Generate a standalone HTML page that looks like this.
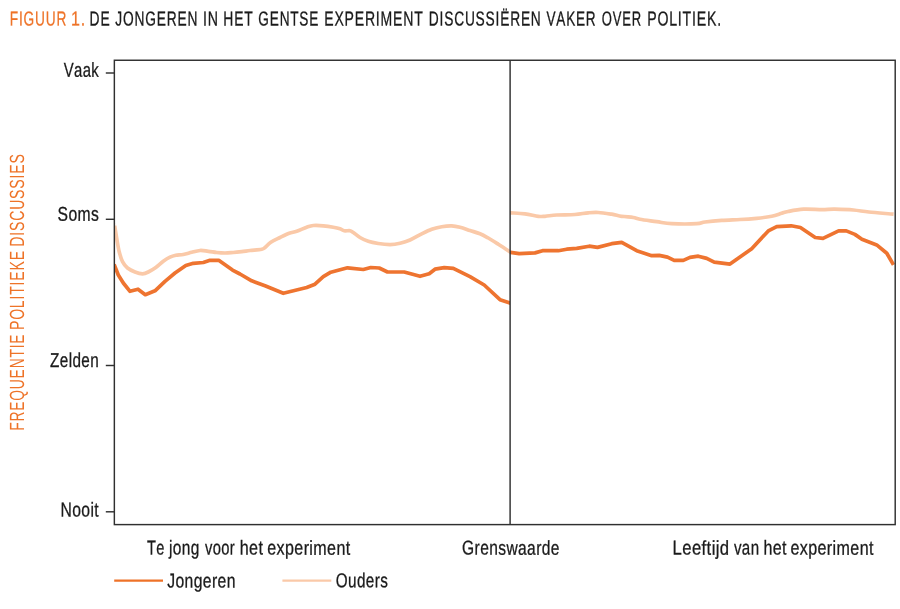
<!DOCTYPE html>
<html lang="nl"><head><meta charset="utf-8"><title>Figuur 1</title>
<style>
html,body{margin:0;padding:0;background:#fff;}
svg{display:block;font-family:"Liberation Sans",Arial,sans-serif;text-rendering:geometricPrecision;font-kerning:none;}
.t{fill:#1a1a1a;stroke:#1a1a1a;stroke-width:0.3;}
.o{fill:#ee7328;}
.ob{fill:#ee7328;stroke:#ee7328;stroke-width:0.25;}
</style></head><body>
<svg width="900" height="609" viewBox="0 0 900 609">
<rect width="900" height="609" fill="#fff"/>
<!-- title -->
<text transform="translate(9.83,25.5) rotate(0.05) scale(0.6788,1)" font-size="20.2" letter-spacing="1.178" class="ob">FIGUUR</text>
<text transform="translate(71.03,25.5) rotate(0.05) scale(0.7947,1)" font-size="20.2" letter-spacing="1.007" class="ob">1.</text>
<text transform="translate(89.61,25.5) rotate(0.05) scale(0.6853,1)" font-size="20.2" letter-spacing="1.167" class="t">DE</text>
<text transform="translate(115.34,25.5) rotate(0.05) scale(0.6810,1)" font-size="20.2" letter-spacing="1.175" class="t">JONGEREN</text>
<text transform="translate(202.94,25.5) rotate(0.05) scale(0.7011,1)" font-size="20.2" letter-spacing="1.141" class="t">IN</text>
<text transform="translate(223.31,25.5) rotate(0.05) scale(0.6871,1)" font-size="20.2" letter-spacing="1.164" class="t">HET</text>
<text transform="translate(258.37,25.5) rotate(0.05) scale(0.6739,1)" font-size="20.2" letter-spacing="1.187" class="t">GENTSE</text>
<text transform="translate(324.30,25.5) rotate(0.05) scale(0.6951,1)" font-size="20.2" letter-spacing="1.151" class="t">EXPERIMENT</text>
<text transform="translate(428.82,25.5) rotate(0.05) scale(0.6814,1)" font-size="20.2" letter-spacing="1.174" class="t">DISCUSSIËREN</text>
<text transform="translate(546.49,25.5) rotate(0.05) scale(0.6716,1)" font-size="20.2" letter-spacing="1.191" class="t">VAKER</text>
<text transform="translate(601.73,25.5) rotate(0.05) scale(0.6450,1)" font-size="20.2" letter-spacing="1.240" class="t">OVER</text>
<text transform="translate(647.19,25.5) rotate(0.05) scale(0.6997,1)" font-size="20.2" letter-spacing="1.143" class="t">POLITIEK.</text>
<!-- curves -->
<defs>
<clipPath id="cl"><rect x="114.5" y="60" width="395.5" height="464.5"/></clipPath>
<clipPath id="cr"><rect x="510" y="60" width="384.9" height="464.5"/></clipPath>
</defs>
<g fill="none" stroke-width="3.7" stroke-linejoin="round" stroke-linecap="butt">
<path clip-path="url(#cl)" stroke="#fac9a8" d="M114.6,225.4C114.6,225.7 114.6,224.8 114.9,227.0C115.2,229.2 116.0,234.2 116.7,238.3C117.4,242.4 118.2,247.8 119.2,251.7C120.2,255.6 121.1,259.0 122.5,261.7C123.9,264.4 125.4,266.3 127.5,268.0C129.6,269.7 132.5,271.0 135.0,272.0C137.5,273.0 140.3,273.8 142.5,273.8C144.7,273.8 146.1,273.1 148.3,272.0C150.5,270.9 153.3,269.3 155.8,267.5C158.3,265.7 160.9,263.0 163.3,261.3C165.7,259.6 167.9,258.2 170.0,257.2C172.1,256.2 173.6,255.8 175.8,255.3C178.0,254.9 180.7,255.0 183.3,254.5C186.0,254.0 188.9,253.0 191.7,252.3C194.5,251.6 197.2,250.7 200.0,250.5C202.8,250.3 205.5,251.0 208.3,251.3C211.1,251.6 213.9,252.2 216.7,252.5C219.5,252.8 222.2,253.0 225.0,253.0C227.8,253.0 230.5,252.7 233.3,252.5C236.1,252.3 238.9,252.0 241.7,251.7C244.5,251.4 246.7,250.9 250.0,250.5C253.3,250.1 259.2,249.7 261.7,249.2C264.2,248.7 263.5,248.7 265.0,247.5C266.5,246.3 268.3,243.9 270.8,242.2C273.3,240.5 276.9,239.0 280.0,237.5C283.1,236.0 286.4,234.3 289.2,233.3C292.0,232.3 293.8,232.3 296.7,231.3C299.6,230.3 303.9,228.2 306.7,227.2C309.5,226.2 310.5,225.7 313.3,225.5C316.1,225.3 320.0,225.5 323.3,225.8C326.6,226.1 330.5,226.7 333.3,227.2C336.1,227.7 338.2,228.2 340.0,228.8C341.8,229.4 342.5,230.5 344.2,230.8C345.9,231.1 348.5,230.4 350.0,230.7C351.5,231.0 351.6,231.4 353.3,232.5C355.0,233.6 357.5,236.0 360.0,237.5C362.5,239.0 365.2,240.3 368.3,241.3C371.4,242.3 374.7,242.9 378.3,243.5C381.9,244.1 386.4,244.6 390.0,244.6C393.6,244.6 396.7,244.1 400.0,243.3C403.3,242.5 406.4,241.6 410.0,240.0C413.6,238.4 418.1,235.6 421.7,233.8C425.3,232.0 428.4,230.4 431.7,229.2C435.0,228.0 438.4,227.3 441.7,226.7C445.0,226.1 448.6,225.7 451.7,225.8C454.8,225.9 456.9,226.4 460.0,227.2C463.1,228.0 466.7,229.4 470.0,230.5C473.3,231.6 476.9,232.6 480.0,233.8C483.1,235.1 485.2,236.3 488.3,238.0C491.4,239.7 494.9,242.0 498.3,244.2C501.8,246.4 506.9,249.8 509.0,251.2C511.1,252.6 510.7,252.4 511.0,252.6"/>
<path clip-path="url(#cr)" stroke="#fac9a8" d="M509.0,212.7C509.2,212.7 507.8,212.6 510.5,212.8C513.2,213.0 520.4,213.2 525.0,213.8C529.6,214.4 535.0,215.9 538.3,216.3C541.6,216.7 541.9,216.5 545.0,216.3C548.1,216.1 551.7,215.3 556.7,215.0C561.7,214.7 569.7,214.9 575.0,214.5C580.3,214.1 584.4,213.1 588.3,212.8C592.2,212.5 594.4,212.3 598.3,212.5C602.2,212.7 607.8,213.6 611.7,214.2C615.6,214.8 618.1,215.8 621.7,216.3C625.3,216.9 630.2,217.0 633.3,217.5C636.3,218.0 636.1,218.5 640.0,219.2C643.9,219.9 651.4,220.9 656.7,221.7C662.0,222.4 665.0,223.4 671.7,223.7C678.4,224.0 691.2,224.0 696.7,223.7C702.2,223.4 700.8,222.6 705.0,222.0C709.2,221.4 715.9,220.7 721.7,220.3C727.5,219.9 734.2,219.8 740.0,219.5C745.8,219.2 751.4,218.8 756.7,218.3C762.0,217.8 767.5,217.1 771.7,216.3C775.9,215.5 779.0,214.1 781.7,213.3C784.4,212.5 784.4,212.2 788.0,211.5C791.6,210.8 797.9,209.5 803.6,209.2C809.3,208.9 817.0,209.6 822.2,209.6C827.4,209.6 829.5,209.1 834.7,209.2C839.9,209.3 847.6,209.5 853.3,210.0C859.0,210.5 862.2,211.3 868.9,212.0C875.6,212.7 889.5,213.8 893.6,214.2"/>
<polyline clip-path="url(#cl)" stroke="#ee7430" points="114.0,264.6 114.7,265.8 118.3,275.0 123.3,283.0 130.0,291.3 138.0,289.2 145.3,294.7 155.0,290.8 165.0,281.3 175.0,273.0 185.8,265.5 193.3,263.3 203.3,262.5 210.0,260.3 218.7,260.3 232.5,270.1 240.0,274.0 251.7,280.8 265.0,285.8 283.3,293.3 306.7,287.5 315.0,284.2 323.3,276.7 330.8,272.2 347.5,267.8 363.3,269.5 370.8,267.5 379.2,268.0 387.5,272.0 404.2,272.0 420.0,276.3 429.2,273.7 435.0,269.2 444.2,267.7 453.3,268.3 470.0,276.7 484.2,285.0 500.0,299.7 509.2,302.8 511.0,303.4"/>
<polyline clip-path="url(#cr)" stroke="#ee7430" points="509.0,252.2 510.5,252.4 519.2,253.7 535.0,252.9 542.5,250.7 558.3,250.7 566.7,249.2 576.7,248.4 589.2,246.2 597.5,247.4 611.7,243.7 621.7,242.4 636.7,250.7 651.7,255.7 659.2,255.4 667.5,257.1 674.2,260.4 683.3,260.4 690.0,257.4 698.3,256.2 706.7,258.4 714.2,262.1 730.0,264.1 751.7,248.7 768.3,230.9 776.7,226.7 791.1,225.8 800.4,227.5 815.2,237.5 823.0,238.3 838.6,230.9 846.3,230.9 854.9,234.4 861.9,239.2 876.7,244.9 886.8,253.2 893.5,264.8"/>
</g>
<!-- frame -->
<g fill="none" stroke="#303030" stroke-width="1.45">
<rect x="114.35" y="60.25" width="780.85" height="464.35"/>
<line x1="510.1" y1="60" x2="510.1" y2="524.5"/>
<line x1="105.8" y1="73.0" x2="114.5" y2="73.0"/>
<line x1="105.8" y1="219.3" x2="114.5" y2="219.3"/>
<line x1="105.8" y1="365.5" x2="114.5" y2="365.5"/>
<line x1="105.8" y1="511.8" x2="114.5" y2="511.8"/>
</g>
<!-- y tick labels -->
<text transform="translate(63.68,76.7) rotate(0.05) scale(0.7424,1)" font-size="20.0" letter-spacing="0.539" class="t">Vaak</text>
<text transform="translate(57.54,220.7) rotate(0.05) scale(0.7840,1)" font-size="20.0" letter-spacing="0.510" class="t">Soms</text>
<text transform="translate(50.07,366.9) rotate(0.05) scale(0.7633,1)" font-size="20.0" letter-spacing="0.524" class="t">Zelden</text>
<text transform="translate(60.46,516.4) rotate(0.05) scale(0.7839,1)" font-size="20.0" letter-spacing="0.510" class="t">Nooit</text>
<!-- y axis label -->
<text transform="translate(24.0,430.73) rotate(-89.95) scale(0.6738,1)" font-size="20.5" letter-spacing="1.187" class="o">FREQUENTIE</text>
<text transform="translate(24.0,330.05) rotate(-89.95) scale(0.6857,1)" font-size="20.5" letter-spacing="1.167" class="o">POLITIEKE</text>
<text transform="translate(24.0,246.76) rotate(-89.95) scale(0.6878,1)" font-size="20.5" letter-spacing="1.163" class="o">DISCUSSIES</text>
<!-- x labels and legend labels -->
<text transform="translate(147.02,554.6) rotate(0.05) scale(0.7272,1)" font-size="20.0" letter-spacing="0.550" class="t">Te</text>
<text transform="translate(169.03,554.6) rotate(0.05) scale(0.7727,1)" font-size="20.0" letter-spacing="0.518" class="t">jong</text>
<text transform="translate(204.90,554.6) rotate(0.05) scale(0.7350,1)" font-size="20.0" letter-spacing="0.544" class="t">voor</text>
<text transform="translate(239.63,554.6) rotate(0.05) scale(0.8070,1)" font-size="20.0" letter-spacing="0.496" class="t">het</text>
<text transform="translate(267.27,554.6) rotate(0.05) scale(0.8015,1)" font-size="20.0" letter-spacing="0.499" class="t">experiment</text>
<text transform="translate(462.07,554.6) rotate(0.05) scale(0.7777,1)" font-size="20.0" letter-spacing="0.514" class="t">Grenswaarde</text>
<text transform="translate(672.58,554.6) rotate(0.05) scale(0.8333,1)" font-size="20.0" letter-spacing="0.480" class="t">Leeftijd</text>
<text transform="translate(733.90,554.6) rotate(0.05) scale(0.7546,1)" font-size="20.0" letter-spacing="0.530" class="t">van</text>
<text transform="translate(763.44,554.6) rotate(0.05) scale(0.8032,1)" font-size="20.0" letter-spacing="0.498" class="t">het</text>
<text transform="translate(790.47,554.6) rotate(0.05) scale(0.8025,1)" font-size="20.0" letter-spacing="0.498" class="t">experiment</text>
<text transform="translate(167.20,587.4) rotate(0.05) scale(0.7850,1)" font-size="20.0" letter-spacing="0.510" class="t">Jongeren</text>
<text transform="translate(335.73,587.3) rotate(0.05) scale(0.7635,1)" font-size="20.0" letter-spacing="0.524" class="t">Ouders</text>
<!-- legend -->
<line x1="114.2" y1="580.6" x2="163" y2="580.6" stroke="#ee7228" stroke-width="2.4"/>
<line x1="282.4" y1="580.6" x2="331.3" y2="580.6" stroke="#fac9a8" stroke-width="2.4"/>
</svg>
</body></html>
